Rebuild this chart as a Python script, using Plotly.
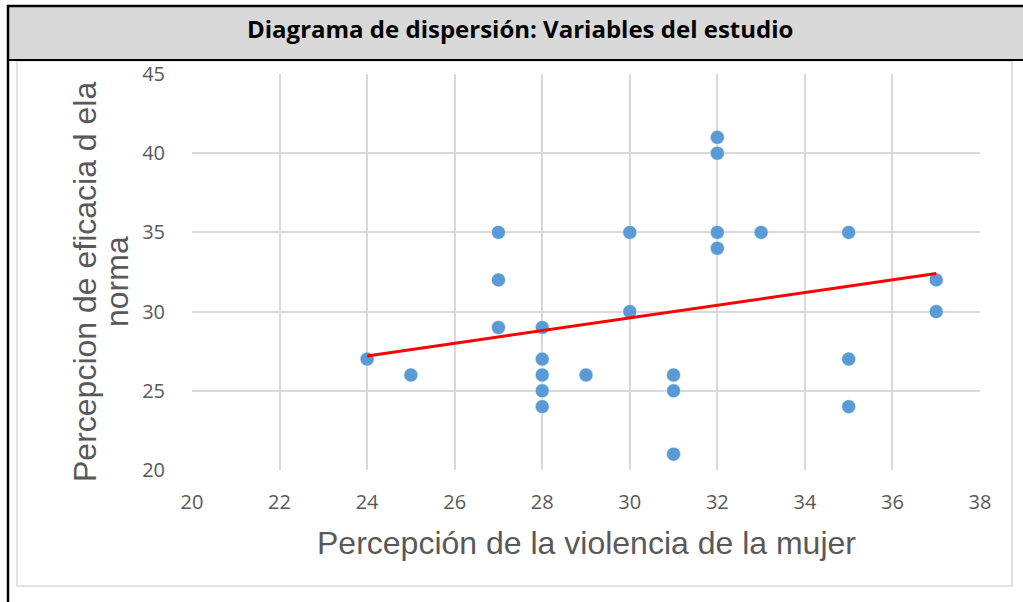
import plotly.graph_objects as go

# Data
violencia = [24, 25, 27, 27, 27, 28, 28, 28, 28, 28, 29, 30, 30, 31, 31, 31,
             32, 32, 32, 32, 33, 35, 35, 35, 37, 37]
eficacia = [27, 26, 35, 32, 29, 29, 27, 26, 25, 24, 26, 35, 30, 26, 25, 21,
            41, 40, 35, 34, 35, 35, 27, 24, 32, 30]
# Linear trendline endpoints
trend_x = [24, 37]
trend_y = [27.2, 32.4]
x_ticks = [20, 22, 24, 26, 28, 30, 32, 34, 36, 38]
y_ticks = [20, 25, 30, 35, 40, 45]

title_text = "Diagrama de dispersión: Variables del estudio"
x_title = "Percepción de la violencia de la mujer"
y_title_1 = "Percepcion de eficacia d ela"
y_title_2 = "norma"

W, H = 1023, 602
L, R, T, B = 192, 980, 74, 470
pw, ph = R - L, B - T


def px(xp):
    return (xp - L) / pw


def py(yp):
    return (B - yp) / ph


fig = go.Figure()
fig.add_trace(go.Scatter(
    x=violencia, y=eficacia, mode="markers",
    marker=dict(size=14, color="#5b9bd5", line=dict(width=0.5, color="#ffffff")),
    showlegend=False, hoverinfo="x+y"))
fig.add_trace(go.Scatter(
    x=trend_x, y=trend_y, mode="lines", line=dict(color="#ff0000", width=3),
    showlegend=False, hoverinfo="skip"))

grid = "#d9d9d9"
shapes = [
    # chart area border
    dict(type="rect", xref="paper", yref="paper", x0=px(17), x1=px(1012), y0=py(61), y1=py(586),
         line=dict(color=grid, width=1.5), fillcolor="rgba(0,0,0,0)", layer="below"),
    # header fill
    dict(type="rect", xref="paper", yref="paper", x0=px(8), x1=px(1030), y0=py(6), y1=py(60),
         line=dict(width=0), fillcolor="#d9d9d9", layer="below"),
    # black lines
    dict(type="line", xref="paper", yref="paper", x0=px(7), x1=px(1030), y0=py(6), y1=py(6),
         line=dict(color="#000000", width=2.5)),
    dict(type="line", xref="paper", yref="paper", x0=px(7), x1=px(1030), y0=py(60), y1=py(60),
         line=dict(color="#000000", width=2)),
    dict(type="line", xref="paper", yref="paper", x0=px(8), x1=px(8), y0=py(5), y1=py(610),
         line=dict(color="#000000", width=2.5)),
]

axis_title_font = dict(family="Liberation Sans", size=32, color="#595959")
annotations = [
    dict(text="<b>" + title_text + "</b>", xref="paper", yref="paper", x=px(520), y=py(28),
         showarrow=False, font=dict(family="Open Sans", size=24, color="#000000"),
         xanchor="center", yanchor="middle"),
    dict(text=x_title, xref="paper", yref="paper", x=px(586), y=py(543),
         showarrow=False, font=axis_title_font, xanchor="center", yanchor="middle"),
    dict(text=y_title_1, xref="paper", yref="paper", x=px(85), y=py(282), textangle=-90,
         showarrow=False, font=axis_title_font, xanchor="center", yanchor="middle"),
    dict(text=y_title_2, xref="paper", yref="paper", x=px(117), y=py(282), textangle=-90,
         showarrow=False, font=axis_title_font, xanchor="center", yanchor="middle"),
]

tick_font = dict(family="Open Sans", size=20, color="#595959")
fig.update_layout(
    width=W, height=H,
    margin=dict(l=L, r=W - R, t=T, b=H - B, pad=0),
    paper_bgcolor="#ffffff", plot_bgcolor="#ffffff",
    shapes=shapes, annotations=annotations,
    xaxis=dict(range=[20, 38], tickvals=x_ticks, showgrid=True, gridcolor=grid, gridwidth=1.5,
               zeroline=False, showline=False, ticks="outside", ticklen=14, tickcolor="rgba(0,0,0,0)",
               tickfont=tick_font, fixedrange=True),
    yaxis=dict(range=[20, 45], tickvals=y_ticks, showgrid=True, gridcolor=grid, gridwidth=1.5,
               zeroline=False, showline=False, ticks="outside", ticklen=22, tickcolor="rgba(0,0,0,0)",
               tickfont=tick_font, fixedrange=True),
)

fig.write_html("out.html", config={"displayModeBar": False},
               post_script="document.body.style.margin='0px';document.body.style.padding='0px';")
